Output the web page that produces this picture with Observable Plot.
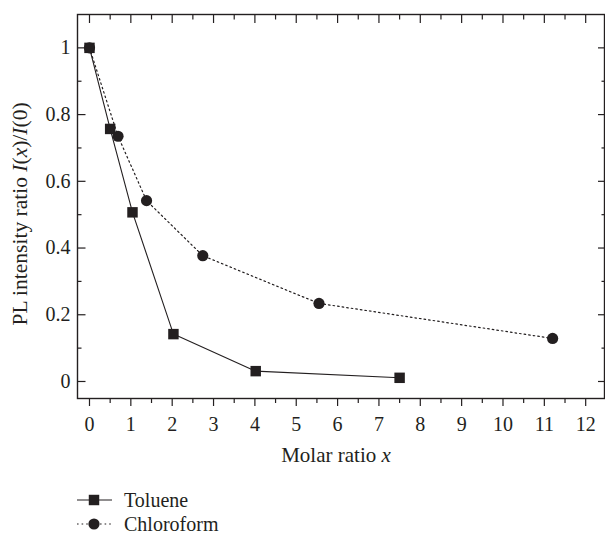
<!DOCTYPE html>
<html><head><meta charset="utf-8">
<script src="https://cdn.jsdelivr.net/npm/d3@7"></script>
<script src="https://cdn.jsdelivr.net/npm/@observablehq/plot@0.6"></script>
<style>
body{margin:0;background:#fff;overflow:hidden;}
#chart{position:relative;width:605px;height:533px;font-family:"Liberation Serif",serif;}
#legend{position:absolute;left:0;top:470px;}
</style></head><body><div id="chart"></div>
<script>
const seriesNames = ["Toluene", "Chloroform"];
const tolueneX = [0, 0.5, 1.04, 2.03, 4.02, 7.5];
const tolueneY = [1, 0.757, 0.507, 0.142, 0.031, 0.011];
const chloroformX = [0, 0.69, 1.38, 2.74, 5.55, 11.2];
const chloroformY = [1, 0.735, 0.542, 0.377, 0.234, 0.129];
const xMajorTicks = [0,1,2,3,4,5,6,7,8,9,10,11,12];
const xMinorTicks = [0.5,1.5,2.5,3.5,4.5,5.5,6.5,7.5,8.5,9.5,10.5,11.5];
const yMajorTicks = [0,0.2,0.4,0.6,0.8,1];
const yMinorTicks = [0.1,0.3,0.5,0.7,0.9];

const ink = "#231f20";
const toluene = tolueneX.map((x,i)=>({x, y: tolueneY[i]}));
const chloroform = chloroformX.map((x,i)=>({x, y: chloroformY[i]}));
const blank = () => "";

const plot = Plot.plot({
  width: 605, height: 470,
  marginLeft: 77, marginRight: 1, marginTop: 14, marginBottom: 72,
  style: {fontFamily: '"Liberation Serif", serif', fontSize: "20px", color: ink, background: "white", overflow: "visible"},
  x: {domain: [-0.29, 12.455]},
  y: {domain: [-0.051, 1.1]},
  marks: [
    Plot.axisX(xMajorTicks, {anchor: "bottom", tickSize: 8, tickPadding: 10, label: null, stroke: ink, strokeWidth: 1.2, tickFormat: d => String(d)}),
    Plot.axisX(xMinorTicks, {anchor: "bottom", tickSize: 5, label: null, stroke: ink, strokeWidth: 1.2, tickFormat: blank}),
    Plot.axisX(xMajorTicks, {anchor: "top", tickSize: -8, label: null, stroke: ink, strokeWidth: 1.2, tickFormat: blank}),
    Plot.axisX(xMinorTicks, {anchor: "top", tickSize: -4.5, label: null, stroke: ink, strokeWidth: 1.2, tickFormat: blank}),
    Plot.axisY(yMajorTicks, {anchor: "left", tickSize: 0, tickPadding: 7, label: null, tickFormat: d => String(d)}),
    Plot.axisY(yMajorTicks, {anchor: "left", tickSize: -8.5, label: null, stroke: ink, strokeWidth: 1.2, tickFormat: blank}),
    Plot.axisY(yMinorTicks, {anchor: "left", tickSize: -4.5, label: null, stroke: ink, strokeWidth: 1.2, tickFormat: blank}),
    Plot.axisY(yMajorTicks, {anchor: "right", tickSize: -7, label: null, stroke: ink, strokeWidth: 1.2, tickFormat: blank}),
    Plot.axisY(yMinorTicks, {anchor: "right", tickSize: -3.5, label: null, stroke: ink, strokeWidth: 1.2, tickFormat: blank}),
    Plot.frame({stroke: ink, strokeWidth: 1.4}),
    Plot.line(toluene, {x: "x", y: "y", stroke: ink, strokeWidth: 1.1}),
    Plot.line(chloroform, {x: "x", y: "y", stroke: ink, strokeWidth: 1.2, strokeDasharray: "1.6,3"}),
    Plot.dot(toluene, {x: "x", y: "y", symbol: "square", r: 5.9, fill: ink, stroke: "none"}),
    Plot.dot(chloroform, {x: "x", y: "y", symbol: "circle", r: 5.6, fill: ink, stroke: "none"})
  ]
});

const chart = document.getElementById("chart");
chart.appendChild(plot);
const svg = d3.select(plot);

const yl = svg.append("text")
  .attr("transform", "translate(27,214) rotate(-90)")
  .attr("text-anchor", "middle")
  .attr("font-family", '"Liberation Serif", serif')
  .attr("font-size", 21.5)
  .attr("fill", ink);
[["PL intensity ratio ", false], ["I", true], ["(", false], ["x", true], [")/", false], ["I", true], ["(0)", false]]
  .forEach(([t, it]) => yl.append("tspan").attr("font-style", it ? "italic" : "normal").text(t));

const xl = svg.append("text")
  .attr("x", 336).attr("y", 462)
  .attr("text-anchor", "middle")
  .attr("font-family", '"Liberation Serif", serif')
  .attr("font-size", 21)
  .attr("fill", ink);
[["Molar ratio ", false], ["x", true]]
  .forEach(([t, it]) => xl.append("tspan").attr("font-style", it ? "italic" : "normal").text(t));

const lg = d3.select(chart).append("svg")
  .attr("id", "legend").attr("width", 605).attr("height", 63);
const rows = [
  {name: seriesNames[0], dash: null, sym: d3.symbolSquare, size: 5.9*5.9*Math.PI, cy: 30},
  {name: seriesNames[1], dash: "1.6,3", sym: d3.symbolCircle, size: 5.6*5.6*Math.PI, cy: 54}
];
rows.forEach(r => {
  const g = lg.append("g");
  g.append("line").attr("x1", 77).attr("x2", 112).attr("y1", r.cy).attr("y2", r.cy)
    .attr("stroke", ink).attr("stroke-width", 1.2).attr("stroke-dasharray", r.dash);
  g.append("path").attr("transform", `translate(94,${r.cy})`).attr("d", d3.symbol(r.sym, r.size)()).attr("fill", ink);
  g.append("text").attr("x", 124).attr("y", r.cy + 6.5).attr("font-family", '"Liberation Serif", serif')
    .attr("font-size", 20).attr("fill", ink).text(r.name);
});
</script>
</body></html>
